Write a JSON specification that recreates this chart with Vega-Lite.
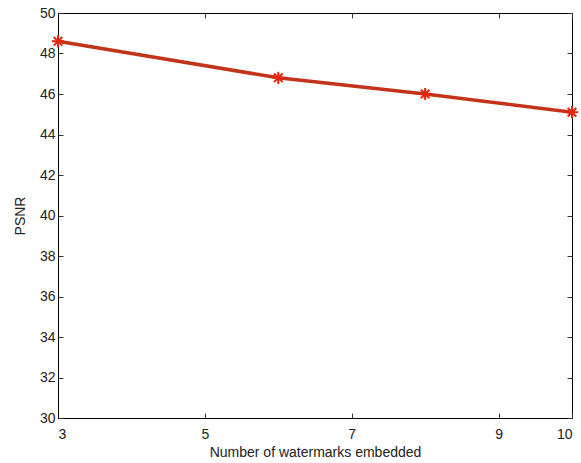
{
  "$schema": "https://vega.github.io/schema/vega-lite/v6.json",
  "width": 514,
  "height": 405,
  "autosize": "none",
  "padding": {"left": 58, "top": 13, "right": 9, "bottom": 45},
  "background": "white",
  "config": {
    "view": {"stroke": "black", "strokeWidth": 1},
    "axis": {
      "labelFont": "Liberation Sans",
      "titleFont": "Liberation Sans",
      "labelFontSize": 14,
      "titleFontSize": 14,
      "titleFontWeight": "normal",
      "labelColor": "#222222",
      "titleColor": "#222222",
      "domainColor": "black",
      "tickColor": "#333333",
      "grid": false
    }
  },
  "data": {
    "values": [
      {"n": 3, "psnr": 48.6},
      {"n": 6, "psnr": 46.8},
      {"n": 8, "psnr": 46.0},
      {"n": 10, "psnr": 45.1}
    ]
  },
  "resolve": {"axis": {"x": "independent", "y": "independent"}},
  "layer": [
    {
      "mark": {"type": "line", "color": "#c3331a", "strokeWidth": 3.5},
      "encoding": {
        "x": {
          "field": "n", "type": "quantitative",
          "scale": {"domain": [3, 10], "nice": false, "zero": false},
          "axis": {"values": [3, 5, 7, 9, 10], "tickSize": -5, "labelPadding": 14, "title": "Number of watermarks embedded", "titlePadding": 4}
        },
        "y": {
          "field": "psnr", "type": "quantitative",
          "scale": {"domain": [30, 50], "nice": false, "zero": false},
          "axis": {"values": [30, 32, 34, 36, 38, 40, 42, 44, 46, 48, 50], "tickSize": -5, "labelPadding": 8, "title": "PSNR", "titlePadding": 12}
        }
      }
    },
    {
      "mark": {"type": "point", "shape": "M0,-1L0,1M-1,0L1,0M-0.7,-0.7L0.7,0.7M-0.7,0.7L0.7,-0.7", "filled": false, "stroke": "#e8240c", "strokeWidth": 2, "size": 150, "opacity": 1},
      "encoding": {
        "x": {"field": "n", "type": "quantitative", "axis": {"orient": "top", "values": [3, 5, 7, 9, 10], "tickSize": -5, "labels": false, "title": null, "domain": false}},
        "y": {"field": "psnr", "type": "quantitative", "axis": {"orient": "right", "values": [30, 32, 34, 36, 38, 40, 42, 44, 46, 48, 50], "tickSize": -5, "labels": false, "title": null, "domain": false}}
      }
    }
  ]
}
